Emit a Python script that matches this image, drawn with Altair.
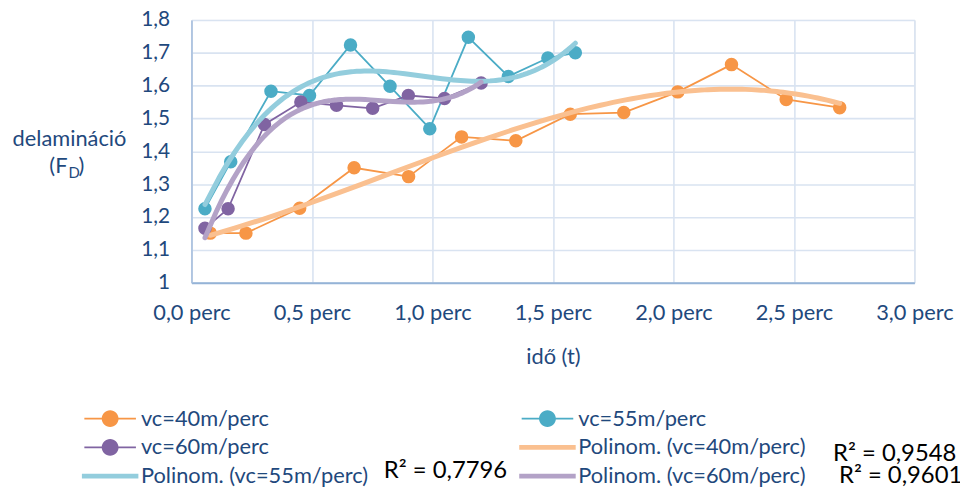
import altair as alt
import pandas as pd

# ---- data ----
t40 = [0.078, 0.226, 0.449, 0.675, 0.901, 1.121, 1.346, 1.572, 1.794, 2.018, 2.241, 2.468, 2.690]
f40 = [1.151, 1.151, 1.227, 1.350, 1.323, 1.444, 1.432, 1.513, 1.518, 1.581, 1.664, 1.558, 1.533]

t55 = [0.056, 0.163, 0.330, 0.490, 0.660, 0.824, 0.989, 1.149, 1.315, 1.479, 1.593]
f55 = [1.225, 1.368, 1.583, 1.570, 1.724, 1.598, 1.469, 1.747, 1.628, 1.684, 1.700]

t60 = [0.056, 0.152, 0.303, 0.454, 0.602, 0.752, 0.900, 1.050, 1.202]
f60 = [1.166, 1.225, 1.482, 1.550, 1.540, 1.531, 1.570, 1.561, 1.608]

series_names = ["vc=40m/perc", "vc=55m/perc", "vc=60m/perc"]
# legend entries in column-major order (column 1 top to bottom, then column 2)
legend_order = ["vc=40m/perc", "vc=60m/perc", "Polinom. (vc=55m/perc)",
                "vc=55m/perc", "Polinom. (vc=40m/perc)", "Polinom. (vc=60m/perc)"]
legend_colors = ["#F79646", "#8064A2", "#93CDDD", "#4BACC6", "#FAC090", "#B3A2C7"]

# legend symbols: line with marker for data series, thick line for trend lines
SYM_DATA = "M-3.06,-0.11H3.06V0.11H-3.06Z M1,0A1,1 0 1 1 -1,0A1,1 0 1 1 1,0Z"
SYM_TREND = "M-3.35,-0.29H3.35V0.29H-3.35Z"
legend_shapes = [SYM_DATA, SYM_DATA, SYM_TREND, SYM_DATA, SYM_TREND, SYM_TREND]

r2_labels = ["R² = 0,7796", "R² = 0,9548", "R² = 0,9601"]
y_title_main = ["delamináció"]
y_title_f = ["(F"]
y_title_sub = ["D"]
y_title_close = [")"]

TXT = "#1F497D"
FONT = "Lato"

rows = []
for name, ts, fs in zip(series_names, [t40, t55, t60], [f40, f55, f60]):
    for t, f in zip(ts, fs):
        rows.append({"series": name, "key": name, "t": t, "FD": f})
df = pd.DataFrame(rows)

color_scale = alt.Scale(domain=legend_order, range=legend_colors)
color_plain = alt.Color("key:N", scale=color_scale, legend=None)

legend = alt.Legend(
    title=None,
    orient="none",
    legendX=-93,
    legendY=391,
    columns=2,
    columnPadding=151,
    rowPadding=7,
    padding=0,
    symbolSize=289,
    symbolOffset=0,
    labelOffset=20,
    labelFont=FONT,
    labelFontSize=22,
    labelColor=TXT,
    labelLimit=400,
    symbolOpacity=1,
    symbolStrokeWidth=0,
)

xenc = alt.X(
    "t:Q",
    scale=alt.Scale(domain=[0, 3], nice=False, zero=False),
    axis=alt.Axis(
        values=[0, 0.5, 1.0, 1.5, 2.0, 2.5, 3.0],
        labelExpr="replace(format(datum.value, '.1f'), '.', ',') + ' perc'",
        title="idő (t)",
        titleFont=FONT, titleFontSize=22, titleFontWeight="normal", titleColor=TXT,
        titlePadding=23,
        labelFont=FONT, labelFontSize=22, labelColor=TXT, labelPadding=20,
        labelFlush=False,
        ticks=False, domainColor="#95B3D7", domainWidth=2,
        gridColor="#D9E3F1", gridWidth=1.6,
        orient="bottom",
    ),
)
yenc = alt.Y(
    "FD:Q",
    scale=alt.Scale(domain=[1, 1.8], nice=False, zero=False),
    axis=alt.Axis(
        values=[1.0, 1.1, 1.2, 1.3, 1.4, 1.5, 1.6, 1.7, 1.8],
        labelExpr="datum.value == 1 ? '1' : replace(format(datum.value, '.1f'), '.', ',')",
        title=None,
        labelFont=FONT, labelFontSize=21, labelColor=TXT, labelPadding=22,
        labelFlush=False,
        ticks=False, domainColor="#A7BFDE", domainWidth=1.6,
        gridColor="#D9E3F1", gridWidth=1.6,
    ),
)

# legend carrier: one entry per legend item, drawn outside the canvas
legend_layer = alt.Chart(pd.DataFrame({"key": legend_order})).mark_point(
    filled=True, size=289
).encode(
    x=alt.value(-3000),
    y=alt.value(-3000),
    color=alt.Color("key:N", scale=color_scale, legend=legend),
    shape=alt.Shape("key:N", scale=alt.Scale(domain=legend_order, range=legend_shapes), legend=legend),
)

base = alt.Chart(df)
lines = base.mark_line(strokeWidth=1.8).encode(x=xenc, y=yenc, color=color_plain, detail="series:N")
points = base.mark_circle(size=185, opacity=1).encode(x=xenc, y=yenc, color=color_plain)
trend = base.transform_regression(
    "t", "FD", groupby=["series"], method="poly", order=3
).transform_calculate(
    key="'Polinom. (' + datum.series + ')'"
).mark_line(strokeWidth=5, strokeCap="round").encode(x=xenc, y=yenc, color=color_plain, detail="key:N")

def txt(labels, x, y, size, col, align="left"):
    return alt.Chart(pd.DataFrame({"label": labels})).mark_text(
        font=FONT, fontSize=size, color=col, align=align, baseline="middle"
    ).encode(text="label:N", x=alt.value(x), y=alt.value(y))

r2a = txt([r2_labels[0]], 194, 455, 24, "#000000")
r2b = txt([r2_labels[1]], 647, 438, 24, "#000000")
r2c = txt([r2_labels[2]], 653, 460, 24, "#000000")
yt1 = txt(y_title_main, -123, 120, 22, TXT, align="center")
yt2 = txt(y_title_f, -125, 147, 22, TXT, align="right")
yt3 = txt(y_title_sub, -124, 154, 15, TXT)
yt4 = txt(y_title_close, -114, 147, 22, TXT)

chart = alt.layer(legend_layer, lines, points, trend, r2a, r2b, r2c, yt1, yt2, yt3, yt4).properties(
    width=729,
    height=265,
    padding={"left": 185, "top": 10, "right": 46, "bottom": 210},
    autosize=alt.AutoSizeParams(type="none"),
).configure_view(stroke=None).configure(background="white")

chart.save("out.html", embed_options={"renderer": "svg", "actions": False})
